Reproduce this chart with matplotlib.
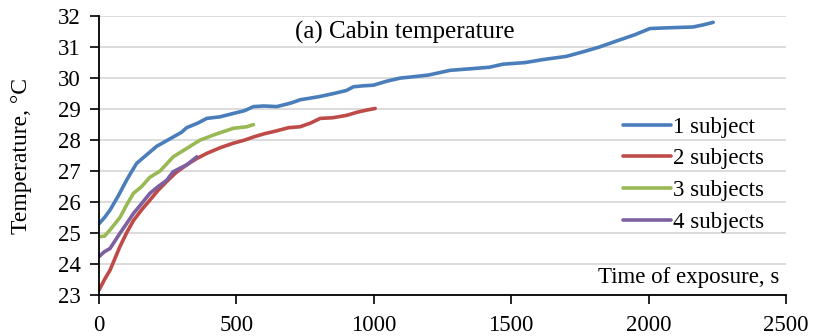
import numpy as np
import matplotlib.pyplot as plt

plt.rcParams['font.family'] = ['Liberation Serif', 'DejaVu Serif']

# 1 subject
t1 = [0, 20, 40, 70, 100, 113, 137, 170, 210, 240, 270, 300, 319, 360, 392, 440, 489, 530,
      562, 600, 647, 700, 732, 800, 853, 900, 926, 960, 998, 1047, 1096, 1150, 1200, 1277,
      1350, 1420, 1471, 1550, 1617, 1700, 1762, 1820, 1884, 1950, 2005, 2060, 2162, 2200, 2235]
y1 = [25.3, 25.5, 25.74, 26.2, 26.7, 26.9, 27.25, 27.5, 27.8, 27.95, 28.1, 28.25, 28.4, 28.55,
      28.7, 28.75, 28.86, 28.95, 29.08, 29.1, 29.08, 29.2, 29.3, 29.4, 29.5, 29.6, 29.72, 29.75,
      29.77, 29.9, 30.0, 30.05, 30.1, 30.25, 30.3, 30.35, 30.45, 30.5, 30.6, 30.7, 30.85, 31.0,
      31.2, 31.4, 31.6, 31.62, 31.65, 31.72, 31.8]

# 2 subjects
t2 = [0, 20, 40, 76, 100, 125, 155, 185, 215, 246, 280, 319, 355, 392, 440, 489, 530, 562,
      600, 647, 690, 732, 770, 805, 850, 902, 940, 975, 1005]
y2 = [23.16, 23.5, 23.8, 24.56, 25.0, 25.4, 25.75, 26.06, 26.38, 26.66, 26.95, 27.2, 27.4,
      27.57, 27.75, 27.9, 28.0, 28.1, 28.2, 28.3, 28.4, 28.43, 28.55, 28.7, 28.72, 28.8,
      28.9, 28.97, 29.02]

# 3 subjects
t3 = [0, 20, 40, 76, 100, 125, 155, 185, 222, 270, 319, 368, 428, 489, 538, 562]
y3 = [24.88, 24.9, 25.1, 25.5, 25.9, 26.28, 26.5, 26.8, 27.0, 27.46, 27.73, 28.0, 28.2,
      28.38, 28.43, 28.5]

# 4 subjects
t4 = [0, 20, 40, 76, 100, 125, 155, 185, 215, 246, 270, 319, 356]
y4 = [24.24, 24.4, 24.5, 24.99, 25.3, 25.63, 25.95, 26.28, 26.5, 26.7, 26.98, 27.2, 27.46]

labels = ['1 subject', '2 subjects', '3 subjects', '4 subjects']
colors = ['#4a7ebb', '#be4b48', '#98b954', '#7d60a0']

fig = plt.figure(figsize=(8.13, 3.36), dpi=100)
ax = fig.add_axes([0.1218, 0.122, 0.845, 0.830])

for t, y, lab, c in zip([t1, t2, t3, t4], [y1, y2, y3, y4], labels, colors):
    ax.plot(t, y, color=c, lw=2.6, label=lab, solid_capstyle='round')

ax.set_xlim(0, 2500)
ax.set_ylim(23, 32)
ax.set_xticks(np.arange(0, 2501, 500))
ax.set_yticks(np.arange(23, 33, 1))
ax.tick_params(labelsize=16.5, direction='out', length=6.5, width=1.2)
ax.tick_params(axis='x', pad=8)
ax.tick_params(axis='y', pad=6.5)
ax.grid(axis='y', color='#d9d9d9', lw=1.3)
ax.set_axisbelow(True)
for s in ['top', 'right']:
    ax.spines[s].set_visible(False)
ax.spines['left'].set_linewidth(1.3)
ax.spines['bottom'].set_linewidth(1.3)

ax.set_ylabel('Temperature, °C', fontsize=17)
ax.yaxis.set_label_coords(-0.098, 0.5)
ax.text(0.445, 0.943, '(a) Cabin temperature', transform=ax.transAxes,
        ha='center', va='center', fontsize=18)
ax.text(0.991, 0.062, 'Time of exposure, s', transform=ax.transAxes,
        ha='right', va='center', fontsize=16.5)

ax.legend(loc='upper left', bbox_to_anchor=(0.762, 0.64), frameon=False, fontsize=16.5,
          handlelength=2.1, handletextpad=0.1, labelspacing=0.47, borderpad=0,
          borderaxespad=0)

fig.savefig('out.png', dpi=100)
